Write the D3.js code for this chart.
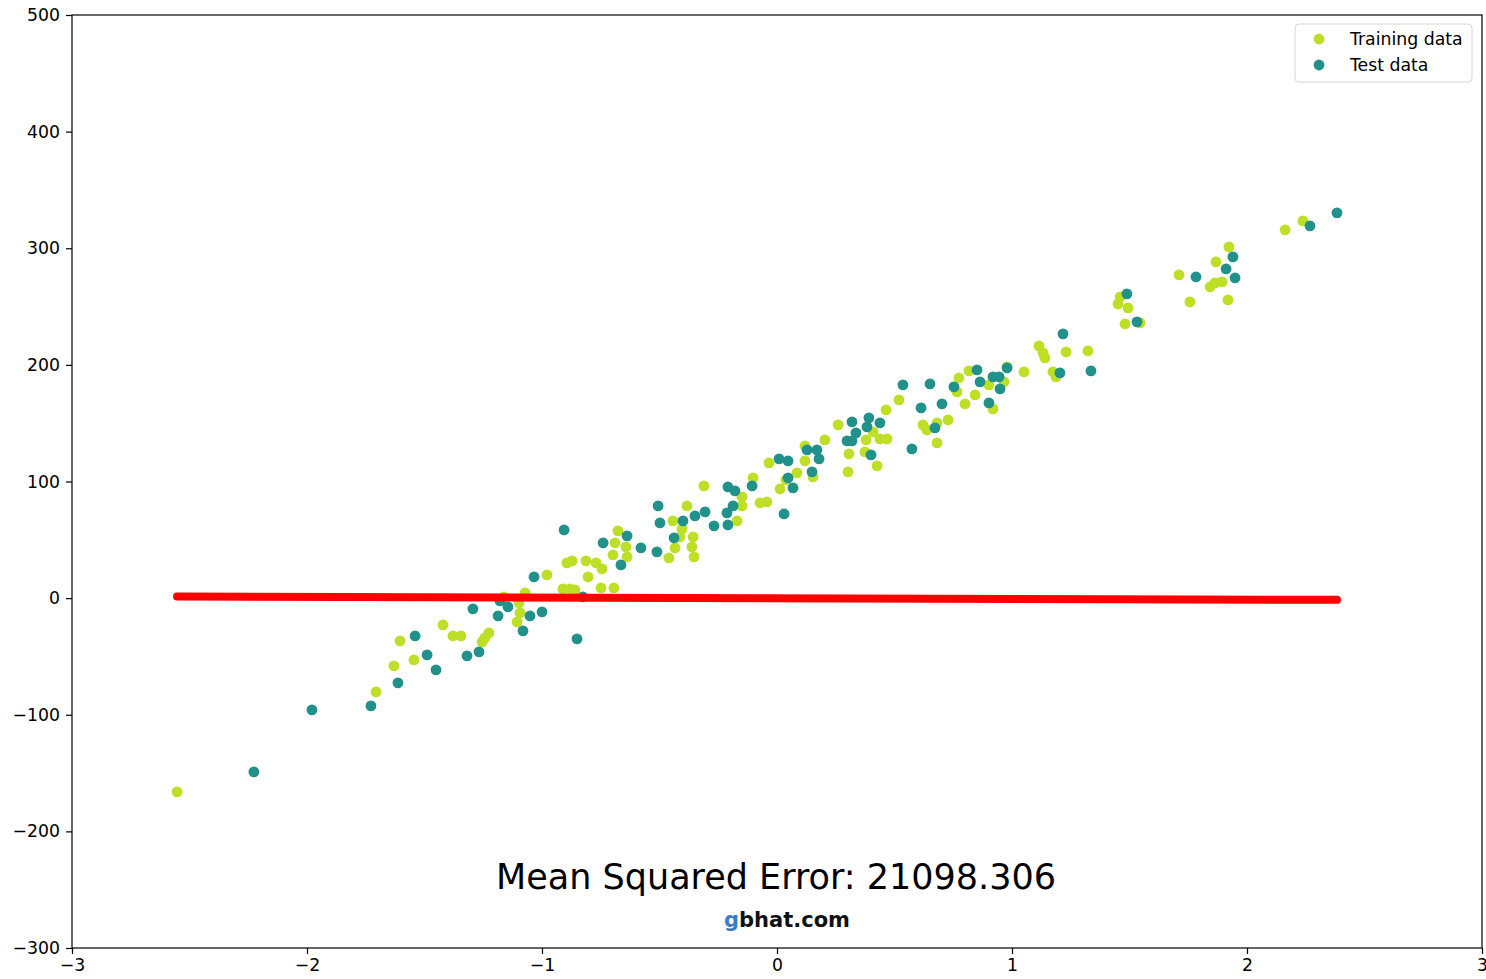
<!DOCTYPE html>
<html>
<head>
<meta charset="utf-8">
<script src="https://cdn.jsdelivr.net/npm/d3@7/dist/d3.min.js"></script>
<style>
  html, body { margin: 0; padding: 0; background: #fff; }
  svg { display: block; font-family: "DejaVu Sans", sans-serif; }
</style>
</head>
<body>
<svg id="chart" width="1486" height="979"></svg>
<script>
// Training samples
const trainX = [-2.553, -1.706, -1.630, -1.604, -1.545, -1.421, -1.379, -1.345, -1.255, -1.243, -1.226,
  -1.162, -1.072, -1.098, -1.094, -1.106, -0.979, -0.911, -0.881, -0.860, -0.894, -0.872, -0.813, -0.770,
  -0.745, -0.804, -0.749, -0.694, -0.677, -0.689, -0.643, -0.698, -0.638, -0.460, -0.434, -0.413, -0.404,
  -0.443, -0.383, -0.357, -0.362, -0.353, -0.311, -0.170, -0.149, -0.149, -0.072, -0.043, -0.102, -0.034,
  0.013, 0.038, 0.085, 0.119, 0.119, 0.153, 0.204, 0.260, 0.306, 0.302, 0.379, 0.409, 0.438, 0.468, 0.374,
  0.426, 0.464, 0.519, 0.621, 0.638, 0.681, 0.728, 0.681, 0.766, 0.774, 0.800, 0.817, 0.843, 0.902, 0.919,
  0.966, 0.979, 1.051, 1.115, 1.132, 1.140, 1.174, 1.187, 1.230, 1.323, 1.451, 1.460, 1.494, 1.481, 1.545,
  1.711, 1.757, 1.843, 1.864, 1.894, 1.868, 1.919, 1.923, 2.162, 2.238];
const trainY = [-166.1, -80.4, -58.1, -36.7, -52.9, -22.9, -32.4, -32.4, -37.5, -34.1, -29.8,
  1.1, 4.5, -4.1, -12.6, -20.4, 19.9, 7.9, 7.9, 7.1, 30.2, 31.9, 31.9, 30.2,
  25.1, 18.2, 8.8, 8.8, 57.7, 47.4, 43.9, 37.1, 35.4, 34.5, 43.1, 52.5, 59.4,
  66.2, 79.1, 52.5, 43.9, 35.4, 96.2, 66.2, 86.8, 79.1, 81.7, 82.5, 103.1, 116.0,
  93.7, 101.4, 107.4, 130.5, 117.7, 104.0, 135.7, 148.6, 123.7, 108.3, 135.7, 142.6, 136.6, 136.6, 125.4,
  113.4, 161.4, 170.0, 148.6, 144.3, 150.3, 152.8, 133.1, 176.8, 188.9, 166.6, 194.9, 174.3, 182.9, 162.3,
  185.4, 198.3, 194.0, 216.3, 210.3, 206.0, 194.0, 189.7, 211.1, 212.0, 252.3, 258.3, 248.9, 235.2, 236.0,
  277.2, 254.0, 266.9, 270.3, 271.2, 288.3, 255.7, 301.2, 315.8, 323.5];

// Test samples
const testX = [-2.226, -1.979, -1.728, -1.613, -1.540, -1.489, -1.451, -1.319, -1.268, -1.294, -1.187,
  -1.179, -1.145, -1.051, -1.000, -1.081, -0.851, -1.034, -0.906, -0.826, -0.740, -0.664, -0.638, -0.579,
  -0.511, -0.506, -0.498, -0.438, -0.400, -0.349, -0.306, -0.268, -0.213, -0.209, -0.187, -0.209, -0.179,
  -0.106, 0.030, 0.009, 0.047, 0.047, 0.068, 0.128, 0.170, 0.179, 0.149, 0.298, 0.319, 0.319, 0.336,
  0.383, 0.391, 0.438, 0.400, 0.536, 0.574, 0.613, 0.651, 0.672, 0.702, 0.753, 0.851, 0.864, 0.919,
  0.945, 0.979, 0.949, 0.902, 1.204, 1.217, 1.336, 1.489, 1.532, 1.783, 1.911, 1.940, 1.949, 2.268, 2.383];
const testY = [-149.0, -95.8, -92.4, -72.7, -32.4, -48.7, -61.5, -49.5, -46.1, -9.2, -15.2,
  -2.4, -7.5, -15.2, -11.8, -28.1, -34.9, 18.2, 58.5, 1.1, 47.4, 28.5, 53.4, 43.1,
  39.7, 79.1, 64.5, 51.7, 66.2, 70.5, 74.0, 62.0, 73.1, 62.8, 79.1, 95.4, 92.0,
  96.2, 72.2, 119.4, 117.7, 103.1, 94.5, 127.1, 127.1, 119.4, 108.3, 134.8, 134.8, 151.1, 141.7,
  146.8, 154.6, 150.3, 122.8, 182.9, 128.0, 163.1, 183.7, 146.0, 166.6, 181.1, 195.7, 185.4, 189.7,
  189.7, 197.4, 179.4, 167.4, 193.1, 226.6, 194.9, 260.9, 236.9, 275.5, 282.3, 292.6, 274.6, 319.2, 330.3];

// Fitted line (predictions at the ends of the x range)
const lineX = [-2.553, 2.383];
const lineY = [1.4, -1.5];

const xTicks = [-3, -2, -1, 0, 1, 2, 3];
const yTicks = [-300, -200, -100, 0, 100, 200, 300, 400, 500];
const seriesNames = ["Training data", "Test data"];
const titleText = "Mean Squared Error: 21098.306";

const colors = { train: "#bddf26", test: "#21918c", line: "#ff0000" };

const svg = d3.select("#chart");
const plot = { left: 72, right: 1482, top: 15, bottom: 948 };

const x = d3.scaleLinear().domain([-3, 3]).range([plot.left, plot.right]);
const y = d3.scaleLinear().domain([-300, 500]).range([plot.bottom, plot.top]);

const minus = s => String(s).replace("-", "\u2212");

// Scatter: training then test
const trainPts = trainX.map((v, i) => [v, trainY[i]]);
const testPts = testX.map((v, i) => [v, testY[i]]);

svg.append("g").selectAll("circle").data(trainPts).join("circle")
  .attr("cx", d => x(d[0])).attr("cy", d => y(d[1])).attr("r", 5.4)
  .attr("fill", colors.train);

svg.append("g").selectAll("circle").data(testPts).join("circle")
  .attr("cx", d => x(d[0])).attr("cy", d => y(d[1])).attr("r", 5.4)
  .attr("fill", colors.test);

// Regression line
svg.append("path")
  .datum(lineX.map((v, i) => [v, lineY[i]]))
  .attr("d", d3.line().x(d => x(d[0])).y(d => y(d[1])))
  .attr("fill", "none").attr("stroke", colors.line)
  .attr("stroke-width", 8).attr("stroke-linecap", "round");

// Axes
const xAxis = d3.axisBottom(x).tickValues(xTicks).tickSize(6).tickPadding(5)
  .tickFormat(d => minus(d));
const yAxis = d3.axisLeft(y).tickValues(yTicks).tickSize(6).tickPadding(6)
  .tickFormat(d => minus(d));

const gx = svg.append("g").attr("transform", `translate(0,${plot.bottom})`).call(xAxis);
const gy = svg.append("g").attr("transform", `translate(${plot.left},0)`).call(yAxis);
[gx, gy].forEach(g => {
  g.select(".domain").remove();
  g.selectAll(".tick line").attr("stroke", "#000").attr("stroke-width", 1.2);
  g.selectAll(".tick text").attr("fill", "#000").style("font-size", "17.3px")
    .style("font-family", "DejaVu Sans, sans-serif");
});

// Frame
svg.append("rect")
  .attr("x", plot.left).attr("y", plot.top)
  .attr("width", plot.right - plot.left).attr("height", plot.bottom - plot.top)
  .attr("fill", "none").attr("stroke", "#000").attr("stroke-width", 1.2);

// Legend
const lg = svg.append("g").attr("transform", "translate(1295,24)");
lg.append("rect").attr("width", 177).attr("height", 58).attr("rx", 4)
  .attr("fill", "#fff").attr("fill-opacity", 0.8)
  .attr("stroke", "#d6d6d6").attr("stroke-width", 1);
[colors.train, colors.test].forEach((c, i) => {
  lg.append("circle").attr("cx", 24).attr("cy", 15 + i * 26).attr("r", 5.4).attr("fill", c);
  lg.append("text").attr("x", 55).attr("y", 15 + i * 26).attr("dy", "0.35em")
    .style("font-size", "17.3px").attr("fill", "#000").text(seriesNames[i]);
});

// Score annotation
svg.append("text").attr("x", 776).attr("y", 889).attr("text-anchor", "middle")
  .style("font-size", "35px").attr("fill", "#000").text(titleText);

// Site mark
const wm = svg.append("text").attr("x", 787).attr("y", 927).attr("text-anchor", "middle")
  .style("font-size", "21px").style("font-weight", "bold");
wm.append("tspan").attr("fill", "#3b7dc4").text("g");
wm.append("tspan").attr("fill", "#111").text("bhat.com");
</script>
</body>
</html>
